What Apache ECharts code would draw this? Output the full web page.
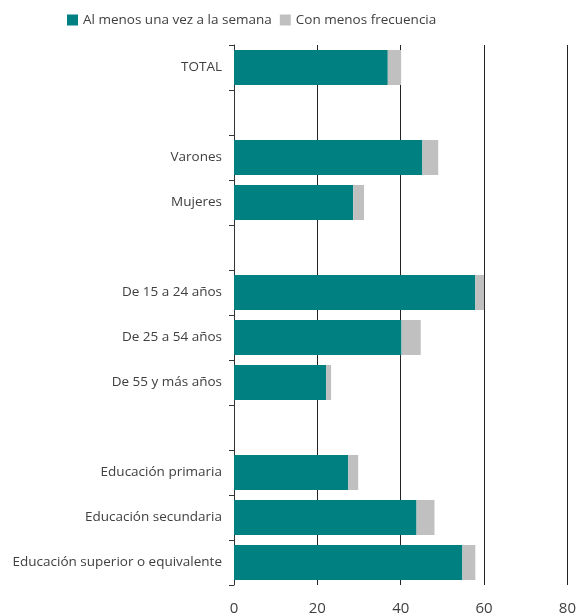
<!DOCTYPE html>
<html>
<head>
<meta charset="utf-8">
<script src="https://cdn.jsdelivr.net/npm/echarts@6/dist/echarts.min.js"></script>
<style>
  html, body { margin: 0; padding: 0; background: #fff; }
  #main { width: 579px; height: 616px; }
</style>
</head>
<body>
<div id="main"></div>
<script>
// categorías (las vacías separan los grupos)
const categories = [
  'TOTAL', '',
  'Varones', 'Mujeres', '',
  'De 15 a 24 años', 'De 25 a 54 años', 'De 55 y más años', '',
  'Educación primaria', 'Educación secundaria', 'Educación superior o equivalente'
]
const semanal = [36.9, null, 45.2, 28.6, null, 57.9, 40.2, 22.1, null, 27.4, 43.8, 54.8]
const menosFrecuencia = [3.2, null, 3.8, 2.6, null, 2.1, 4.6, 1.2, null, 2.4, 4.3, 3.1]
const xTicks = [0, 20, 40, 60, 80]

const fontFamily = '"Open Sans", sans-serif'
const textColor = '#404040'

const myChart = echarts.init(document.getElementById('main'))
myChart.setOption({
  animation: false,
  textStyle: { fontFamily: fontFamily },
  legend: {
    left: 62,
    top: 8,
    itemWidth: 11,
    itemHeight: 11,
    itemGap: 8,
    icon: 'rect',
    textStyle: { color: textColor, fontSize: 13.5, fontFamily: fontFamily },
    data: ['Al menos una vez a la semana', 'Con menos frecuencia']
  },
  grid: { left: 234, right: 10, top: 45, bottom: 31, containLabel: false },
  xAxis: {
    type: 'value',
    min: xTicks[0],
    max: xTicks[xTicks.length - 1],
    interval: 20,
    axisLine: { show: false },
    axisTick: { show: false },
    splitLine: { show: true, lineStyle: { color: '#222', width: 1 } },
    axisLabel: { color: textColor, fontSize: 15, margin: 16 }
  },
  yAxis: {
    type: 'category',
    inverse: true,
    data: categories,
    axisLine: { show: true, lineStyle: { color: '#333', width: 1 } },
    axisTick: { show: true, length: 5, lineStyle: { color: '#333' } },
    axisLabel: { color: textColor, fontSize: 13.5, margin: 12, padding: [2, 0, 0, 0] }
  },
  series: [
    {
      name: 'Al menos una vez a la semana',
      type: 'bar',
      stack: 'total',
      barWidth: 35,
      itemStyle: { color: '#008080' },
      data: semanal
    },
    {
      name: 'Con menos frecuencia',
      type: 'bar',
      stack: 'total',
      barWidth: 35,
      itemStyle: { color: '#c0c0c0' },
      data: menosFrecuencia
    }
  ]
})
</script>
</body>
</html>
